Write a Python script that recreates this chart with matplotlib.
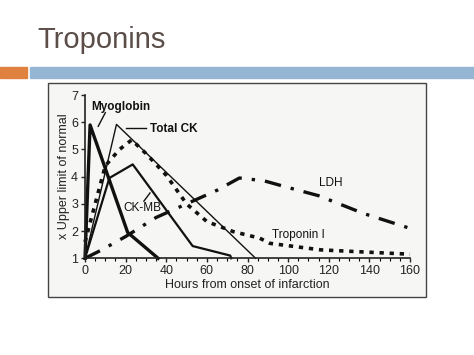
import numpy as np
import matplotlib.pyplot as plt
from matplotlib.patches import Rectangle

plt.rcParams['font.family'] = ['Liberation Sans', 'DejaVu Sans']

# data (hours, x upper limit of normal)
myo_h = [0, 2.5, 21, 36]
myo_v = [1, 5.9, 1.95, 1]

ckmb_h = [0, 12, 23.5, 53, 71.5, 72]
ckmb_v = [1, 3.95, 4.45, 1.45, 1.1, 1]

tck_h = [0, 15.5, 84]
tck_v = [1, 5.92, 1]

tni_h = [0, 5, 10, 17, 23, 30, 40, 50, 60, 73, 86, 91, 116, 160]
tni_v = [1.6, 3.0, 4.4, 5.0, 5.35, 4.85, 4.05, 3.0, 2.35, 1.98, 1.74, 1.55, 1.31, 1.15]

ldh_h = [0, 8, 20, 35, 50, 65, 76, 88, 100, 115, 137, 160]
ldh_v = [1, 1.3, 1.8, 2.5, 3.0, 3.5, 3.95, 3.85, 3.6, 3.3, 2.65, 2.1]

xticks = [0, 20, 40, 60, 80, 100, 120, 140, 160]
yticks = [1, 2, 3, 4, 5, 6, 7]

W, H = 474, 355
fig = plt.figure(figsize=(W / 100, H / 100), dpi=100)

# slide decoration
fig.text(37 / W, 1 - 40 / H, 'Troponins', fontsize=21, color='#5b4d48', va='center', ha='left')
fig.patches.append(Rectangle((0, 1 - 78 / H), 27 / W, 11 / H, transform=fig.transFigure,
                             color='#e0813f', zorder=-1))
fig.patches.append(Rectangle((30 / W, 1 - 78 / H), 1 - 30 / W, 11 / H, transform=fig.transFigure,
                             color='#94b6d3', zorder=-1))
# scanned picture frame
fig.patches.append(Rectangle((48 / W, 1 - 297 / H), (426 - 48) / W, (297 - 83) / H,
                             transform=fig.transFigure, facecolor='#f6f6f4',
                             edgecolor='#444444', lw=1.0, zorder=-1))

ax = fig.add_axes([85 / W, 1 - 258.3 / H, (410 - 85) / W, (258.3 - 95) / H])
ax.set_zorder(2)
ax.set_facecolor('none')
ax.set_xlim(0, 160)
ax.set_ylim(1, 7)
for s in ['top', 'right']:
    ax.spines[s].set_visible(False)
for s in ['left', 'bottom']:
    ax.spines[s].set_linewidth(1.2)
    ax.spines[s].set_color('#222222')

ax.set_xticks(xticks)
ax.set_xticks(np.arange(0, 161, 5), minor=True)
ax.set_yticks(yticks)
ax.tick_params(labelsize=9, colors='#222222', length=3, width=1, pad=2)
ax.tick_params(which='minor', length=2, width=0.8)
ax.set_xlabel('Hours from onset of infarction', fontsize=9, labelpad=1, color='#222222')
ax.set_ylabel('x Upper limit of normal', fontsize=9, labelpad=1, color='#222222')

ax.plot(tck_h, tck_v, color='#111111', lw=1.0, clip_on=False)
ax.plot(ckmb_h, ckmb_v, color='#111111', lw=1.6, clip_on=False)
ax.plot(myo_h, myo_v, color='#111111', lw=2.4, clip_on=False)
ax.plot(tni_h, tni_v, color='#111111', lw=2.6, linestyle=(0, (1.2, 1.6)), clip_on=False)
ax.plot(ldh_h, ldh_v, color='#111111', lw=2.4, linestyle=(0, (5, 3, 1, 3)), clip_on=False)

# labels and leader lines
ax.text(3, 6.55, 'Myoglobin', fontsize=8.5, fontweight='bold', color='#111111', va='center')
ax.plot([10, 6.5], [6.35, 5.85], color='#111111', lw=1.0)
ax.text(32, 5.75, 'Total CK', fontsize=8.5, fontweight='bold', color='#111111', va='center')
ax.plot([20, 30], [5.78, 5.78], color='#111111', lw=1.0)
ax.text(19, 2.85, 'CK-MB', fontsize=8.5, color='#111111', va='center')
ax.plot([29, 32], [3.1, 3.4], color='#111111', lw=1.0)
ax.text(115, 3.75, 'LDH', fontsize=8.5, color='#111111', va='center')
ax.text(92, 1.85, 'Troponin I', fontsize=8.5, color='#111111', va='center')

fig.savefig('out.png', dpi=100)
